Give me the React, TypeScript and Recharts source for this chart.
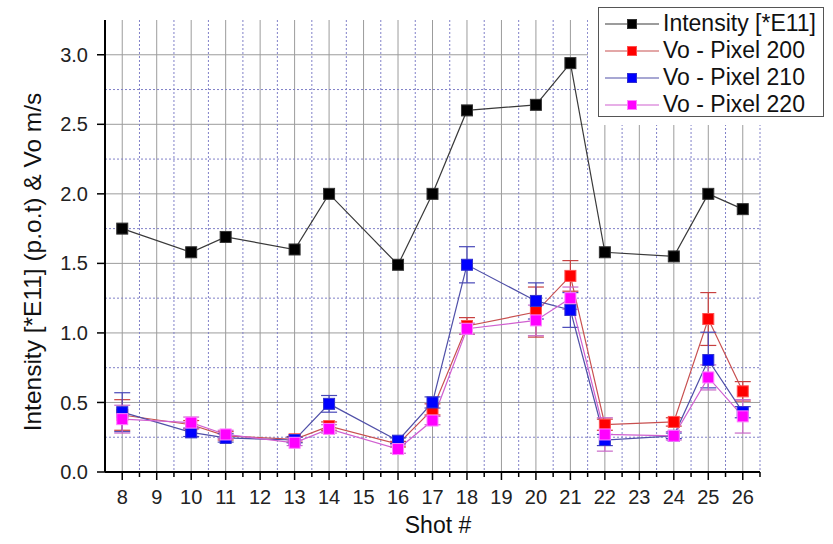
import React from "react";
import { CartesianGrid, ComposedChart, ErrorBar, Label, Legend, Line, XAxis, YAxis } from "recharts";

const shots = [8, 10, 11, 13, 14, 16, 17, 18, 20, 21, 22, 24, 25, 26];
const intensity = [1.75, 1.58, 1.69, 1.6, 2.0, 1.49, 2.0, 2.6, 2.64, 2.94, 1.58, 1.55, 2.0, 1.89];
const vo200 = [0.41, 0.34, 0.26, 0.235, 0.33, 0.2, 0.45, 1.05, 1.15, 1.41, 0.34, 0.36, 1.1, 0.58];
const vo210 = [0.43, 0.285, 0.245, 0.23, 0.49, 0.225, 0.5, 1.49, 1.23, 1.165, 0.23, 0.26, 0.805, 0.43];
const vo220 = [0.38, 0.355, 0.27, 0.21, 0.31, 0.165, 0.37, 1.03, 1.09, 1.25, 0.27, 0.26, 0.68, 0.4];
const err200 = [0.11, 0.03, 0.03, 0.02, 0.03, 0.02, 0.04, 0.06, 0.18, 0.11, 0.04, 0.03, 0.19, 0.07];
const err210 = [0.14, 0.03, 0.03, 0.02, 0.06, 0.02, 0.04, 0.13, 0.13, 0.125, 0.04, 0.02, 0.2, 0.04];
const err220 = [0.1, 0.04, 0.03, 0.02, 0.03, 0.03, 0.03, 0.04, 0.11, 0.08, 0.12, 0.03, 0.09, 0.12];

const xMajor = [8, 9, 10, 11, 12, 13, 14, 15, 16, 17, 18, 19, 20, 21, 22, 23, 24, 25, 26];
const xMinor = [8.5, 9.5, 10.5, 11.5, 12.5, 13.5, 14.5, 15.5, 16.5, 17.5, 18.5, 19.5, 20.5, 21.5, 22.5, 23.5, 24.5, 25.5, 26.5];
const yTicks = [0, 0.5, 1.0, 1.5, 2.0, 2.5, 3.0];
const yMajorGrid = [0.5, 1.0, 1.5, 2.0, 2.5, 3.0];
const yMinorGrid = [0.25, 0.75, 1.25, 1.75, 2.25, 2.75];

const series = [
  { key: "intensity", name: "Intensity [*E11]", line: "#3a3a3a", fill: "#000000", edge: "#333333" },
  { key: "vo200", name: "Vo - Pixel 200", line: "#c85050", fill: "#ff0000", edge: "#ff5050", err: "e200", errColor: "#c84040" },
  { key: "vo210", name: "Vo - Pixel 210", line: "#5050a8", fill: "#0000ff", edge: "#3030d0", err: "e210", errColor: "#4848b8" },
  { key: "vo220", name: "Vo - Pixel 220", line: "#d060d0", fill: "#ff00ff", edge: "#ff80ff", err: "e220", errColor: "#c868c8" },
];

const data = shots.map((shot, i) => ({
  shot,
  intensity: intensity[i],
  vo200: vo200[i],
  vo210: vo210[i],
  vo220: vo220[i],
  e200: err200[i],
  e210: err210[i],
  e220: err220[i],
}));

const xTicks = [...xMajor, ...xMinor].sort((a, b) => a - b);
const font = "'Liberation Sans', Arial, sans-serif";

const ShotTick = (props: any) => {
  const { x, y, payload } = props;
  const major = Number.isInteger(payload.value);
  return (
    <g>
      <line x1={x} x2={x} y1={y} y2={y + (major ? 8 : 5)} stroke="#000" strokeWidth={1.5} />
      {major && (
        <text x={x} y={y + 32} textAnchor="middle" fontSize={20} fill="#222" fontFamily={font}>
          {payload.value}
        </text>
      )}
    </g>
  );
};

const squareDot = (fill: string, edge: string) => (props: any) => {
  const { cx, cy, index } = props;
  if (cx == null || cy == null) return <g key={index} />;
  return <rect key={index} x={cx - 5.5} y={cy - 5.5} width={11} height={11} fill={fill} stroke={edge} strokeWidth={1} />;
};

const LegendBox = () => (
  <div style={{ background: "#fff", width: 245, height: 125, position: "relative" }}>
    <div
      style={{
        position: "absolute",
        left: 10,
        top: 7,
        width: 226,
        height: 110,
        border: "1.5px solid #555",
        background: "#fff",
        fontFamily: font,
        fontSize: 23,
        color: "#111",
        boxSizing: "border-box",
        paddingTop: 2,
      }}
    >
      {series.map((s) => (
        <div key={s.key} style={{ display: "flex", alignItems: "center", height: 27, whiteSpace: "nowrap" }}>
          <svg width={60} height={14} style={{ marginLeft: 4, flexShrink: 0 }}>
            <line x1={2} x2={56} y1={7} y2={7} stroke={s.line} strokeWidth={1.2} />
            <rect x={24.5} y={2.5} width={9} height={9} fill={s.fill} stroke={s.edge} strokeWidth={1} />
          </svg>
          <span>{s.name}</span>
        </div>
      ))}
    </div>
  </div>
);

export default function App() {
  return (
    <div style={{ position: "absolute", left: 0, top: 0, width: 833, height: 544, background: "#fff" }}>
      <ComposedChart width={833} height={544} data={data} margin={{ top: 20, right: 73, left: 45, bottom: 0 }}>
        <CartesianGrid stroke="#9c9c9c" strokeWidth={1} horizontalValues={yMajorGrid} verticalValues={xMajor} />
        <CartesianGrid
          stroke="#8080c8"
          strokeWidth={1}
          strokeDasharray="2 2"
          horizontalValues={yMinorGrid}
          verticalValues={xMinor}
        />
        <XAxis
          dataKey="shot"
          type="number"
          domain={[7.5, 26.5]}
          ticks={xTicks}
          interval={0}
          height={72}
          tickSize={0}
          tickMargin={0}
          tickLine={false}
          tick={<ShotTick />}
          axisLine={{ stroke: "#000", strokeWidth: 2 }}
        >
          <Label
            content={() => (
              <text x={438} y={533} textAnchor="middle" fontSize={23} fill="#111" fontFamily={font}>
                Shot #
              </text>
            )}
          />
        </XAxis>
        <YAxis
          type="number"
          domain={[0, 3.25]}
          ticks={yTicks}
          interval={0}
          width={60}
          tickSize={8}
          tickMargin={9}
          tickFormatter={(v: number) => v.toFixed(1)}
          tick={{ fontSize: 20, fill: "#222", fontFamily: font }}
          tickLine={{ stroke: "#000", strokeWidth: 1.5 }}
          axisLine={{ stroke: "#000", strokeWidth: 2 }}
        >
          <Label
            content={() => (
              <text
                x={32}
                y={262}
                transform="rotate(-90 32 262)"
                textAnchor="middle"
                dominantBaseline="central"
                fontSize={24.5}
                fill="#111"
                fontFamily={font}
              >
                Intensity [*E11] (p.o.t) &amp; Vo m/s
              </text>
            )}
          />
        </YAxis>
        {series.map((s) => (
          <Line
            key={s.key}
            dataKey={s.key}
            name={s.name}
            type="linear"
            stroke={s.line}
            strokeWidth={1.2}
            dot={squareDot(s.fill, s.edge)}
            activeDot={false}
            isAnimationActive={false}
          >
            {s.err && (
              <ErrorBar dataKey={s.err} width={8} stroke={s.errColor} strokeWidth={1.2} direction="y" isAnimationActive={false} />
            )}
          </Line>
        ))}
        <Legend
          layout="vertical"
          align="center"
          verticalAlign="middle"
          content={() => <LegendBox />}
          wrapperStyle={{ top: 0, left: 588, width: 245, height: 125 }}
        />
      </ComposedChart>
    </div>
  );
}
